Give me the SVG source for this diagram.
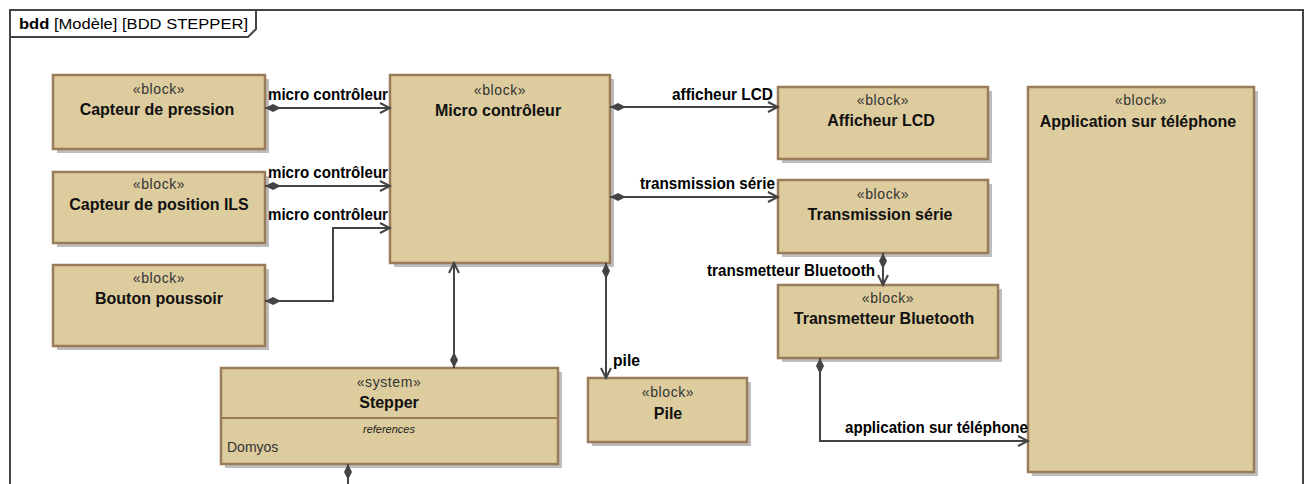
<svg xmlns="http://www.w3.org/2000/svg" width="1308" height="484" viewBox="0 0 1308 484">
<defs>
<style>
.blk{fill:#DDCC9E;stroke:#9A7B5A;stroke-width:2.5}
.sh{fill:#BDBDBD}
.st{font-family:"Liberation Sans",Arial,sans-serif;font-size:14px;letter-spacing:0.6px;fill:#333;text-anchor:middle}
.ti{font-family:"Liberation Sans",Arial,sans-serif;font-size:16px;font-weight:bold;fill:#111;text-anchor:middle}
.lbl{font-family:"Liberation Sans",Arial,sans-serif;font-size:16px;font-weight:bold;fill:#000}
.con{fill:none;stroke:#444;stroke-width:2;marker-start:url(#dia);marker-end:url(#arr)}
</style>
<marker id="dia" markerUnits="userSpaceOnUse" markerWidth="20" markerHeight="12" viewBox="-1 -6 20 12" refX="0" refY="0" orient="auto">
<path d="M0,0 L8,-4 L16,0 L8,4 Z" fill="#444"/>
</marker>
<marker id="arr" markerUnits="userSpaceOnUse" markerWidth="14" markerHeight="14" viewBox="-12 -7 14 14" refX="0" refY="0" orient="auto">
<path d="M-10,-5 L0,0 L-10,5" fill="none" stroke="#444" stroke-width="2"/>
</marker>
</defs>
<rect width="1308" height="484" fill="#fff"/>
<g id="frame">
<path d="M10,490 L10,10 L1303,10 L1303,490" fill="none" stroke="#444" stroke-width="2"/>
<path d="M10,37 L248,37 L256,29 L256,10" fill="none" stroke="#444" stroke-width="2"/>
<text x="19" y="29" font-family="Liberation Sans,Arial,sans-serif" font-size="14" fill="#000" textLength="229" lengthAdjust="spacingAndGlyphs"><tspan font-weight="bold">bdd</tspan>  [Modèle] [BDD STEPPER]</text>
</g>
<g id="capteur-pression">
<rect class="sh" x="57" y="79" width="212" height="74"/>
<rect class="blk" x="53" y="75" width="212" height="74"/>
<text class="st" x="159" y="94">«block»</text>
<text class="ti" x="157" y="115">Capteur de pression</text>
</g>
<g id="capteur-ils">
<rect class="sh" x="57" y="176" width="212" height="71"/>
<rect class="blk" x="53" y="172" width="212" height="71"/>
<text class="st" x="159" y="189">«block»</text>
<text class="ti" x="159" y="210">Capteur de position ILS</text>
</g>
<g id="bouton">
<rect class="sh" x="57" y="269" width="212" height="81"/>
<rect class="blk" x="53" y="265" width="212" height="81"/>
<text class="st" x="159" y="283">«block»</text>
<text class="ti" x="159" y="304">Bouton poussoir</text>
</g>
<g id="micro">
<rect class="sh" x="394" y="79" width="220" height="188"/>
<rect class="blk" x="390" y="75" width="220" height="188"/>
<text class="st" x="500" y="95">«block»</text>
<text class="ti" x="498" y="116">Micro contrôleur</text>
</g>
<g id="afficheur">
<rect class="sh" x="782" y="91" width="210" height="72"/>
<rect class="blk" x="778" y="87" width="210" height="72"/>
<text class="st" x="883" y="105">«block»</text>
<text class="ti" x="881" y="126">Afficheur LCD</text>
</g>
<g id="transmission">
<rect class="sh" x="782" y="184" width="210" height="73"/>
<rect class="blk" x="778" y="180" width="210" height="73"/>
<text class="st" x="883" y="199">«block»</text>
<text class="ti" x="880" y="220">Transmission série</text>
</g>
<g id="bluetooth">
<rect class="sh" x="782" y="289" width="220" height="73"/>
<rect class="blk" x="778" y="285" width="220" height="73"/>
<text class="st" x="888" y="303">«block»</text>
<text class="ti" x="884" y="324">Transmetteur Bluetooth</text>
</g>
<g id="pile">
<rect class="sh" x="592" y="382" width="159" height="64"/>
<rect class="blk" x="588" y="378" width="159" height="64"/>
<text class="st" x="668" y="397">«block»</text>
<text class="ti" x="668" y="419">Pile</text>
</g>
<g id="application">
<rect class="sh" x="1032" y="91" width="226" height="385"/>
<rect class="blk" x="1028" y="87" width="226" height="385"/>
<text class="st" x="1141" y="105">«block»</text>
<text class="ti" x="1138" y="127">Application sur téléphone</text>
</g>
<g id="stepper">
<rect class="sh" x="225" y="372" width="337" height="96"/>
<rect class="blk" x="221" y="368" width="337" height="96"/>
<line x1="221" y1="418" x2="558" y2="418" stroke="#9A7B5A" stroke-width="2"/>
<text class="st" x="389" y="387">«system»</text>
<text class="ti" x="389" y="408">Stepper</text>
<text x="389" y="433" font-family="Liberation Sans,Arial,sans-serif" font-size="11" font-style="italic" fill="#222" text-anchor="middle">references</text>
<text x="227" y="452" font-family="Liberation Sans,Arial,sans-serif" font-size="14" fill="#333">Domyos</text>
</g>
<g id="connectors">
<path class="con" d="M265,108 L390,108"/>
<text class="lbl" x="268" y="100" textLength="120" lengthAdjust="spacingAndGlyphs">micro contrôleur</text>
<path class="con" d="M265,186 L390,186"/>
<text class="lbl" x="268" y="178" textLength="120" lengthAdjust="spacingAndGlyphs">micro contrôleur</text>
<path class="con" d="M265,301 L333,301 L333,228 L390,228"/>
<text class="lbl" x="268" y="220" textLength="120" lengthAdjust="spacingAndGlyphs">micro contrôleur</text>
<path class="con" d="M610,107 L778,107"/>
<text class="lbl" x="672" y="100" textLength="101" lengthAdjust="spacingAndGlyphs">afficheur LCD</text>
<path class="con" d="M610,197 L778,197"/>
<text class="lbl" x="640" y="189" textLength="135" lengthAdjust="spacingAndGlyphs">transmission série</text>
<path class="con" d="M606,263 L606,378"/>
<text class="lbl" x="613" y="366" textLength="27" lengthAdjust="spacingAndGlyphs">pile</text>
<path class="con" d="M883,253 L883,285"/>
<text class="lbl" x="707" y="276" textLength="168" lengthAdjust="spacingAndGlyphs">transmetteur Bluetooth</text>
<path class="con" d="M820,358 L820,441 L1028,441"/>
<text class="lbl" x="845" y="433" textLength="183" lengthAdjust="spacingAndGlyphs">application sur téléphone</text>
<path class="con" d="M454,368 L454,263"/>
<path d="M348,464 L348,492" fill="none" stroke="#444" stroke-width="2" marker-start="url(#dia)"/>
</g>
</svg>
